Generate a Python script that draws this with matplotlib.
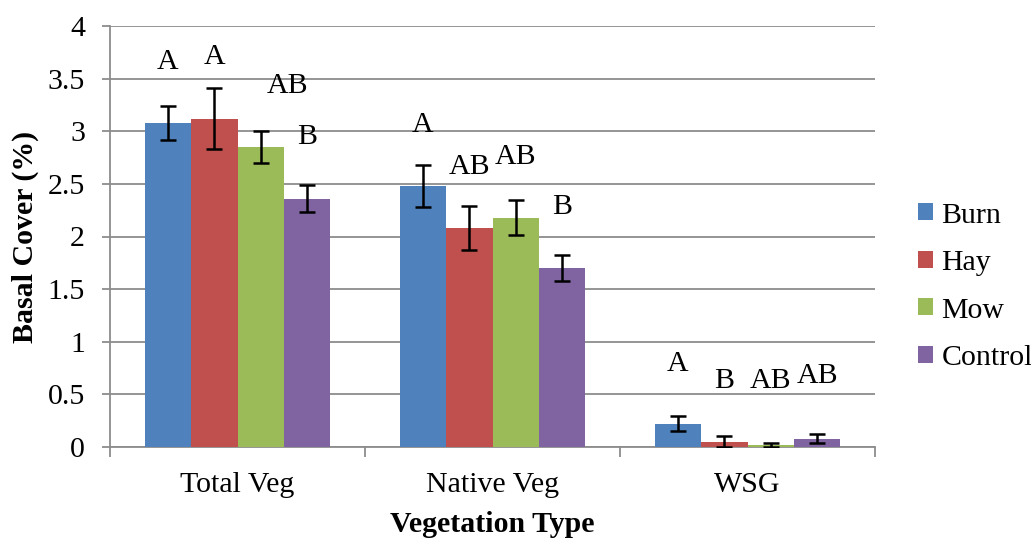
import matplotlib
matplotlib.use("Agg")
import matplotlib.pyplot as plt
import numpy as np

categories = ["Total Veg", "Native Veg", "WSG"]
series = ["Burn", "Hay", "Mow", "Control"]
burn = [3.08, 2.48, 0.22]
hay = [3.12, 2.08, 0.05]
mow = [2.85, 2.18, 0.02]
control = [2.36, 1.70, 0.08]
burn_err = [0.16, 0.20, 0.07]
hay_err = [0.29, 0.21, 0.05]
mow_err = [0.15, 0.17, 0.02]
control_err = [0.13, 0.12, 0.04]
burn_letters = ["A", "A", "A"]
hay_letters = ["A", "AB", "B"]
mow_letters = ["AB", "AB", "AB"]
control_letters = ["B", "B", "AB"]
# heights (in y units) at which the significance letters sit
burn_letter_y = [3.66, 3.06, 0.79]
hay_letter_y = [3.71, 2.66, 0.63]
mow_letter_y = [3.43, 2.76, 0.63]
control_letter_y = [2.95, 2.28, 0.67]

values = [burn, hay, mow, control]
errors = [burn_err, hay_err, mow_err, control_err]
letters = [burn_letters, hay_letters, mow_letters, control_letters]
letter_y = [burn_letter_y, hay_letter_y, mow_letter_y, control_letter_y]
colors = ["#4F81BD", "#C0504D", "#9BBB59", "#8064A2"]

plt.rcParams['font.family'] = ['Liberation Serif', 'DejaVu Serif']
FS = 21.5

fig = plt.figure(figsize=(10.31, 5.38), dpi=100)
ax = fig.add_axes([110/1031, 1-447/538, 765/1031, 421/538])

x = np.arange(len(categories))
w = 1/5.5
grid_c = "#8C8C8C"
for i, (vals, errs, c, name) in enumerate(zip(values, errors, colors, series)):
    pos = x + (i - 1.5) * w
    ax.bar(pos, vals, width=w, color=c, label=name, zorder=3, linewidth=0)
    ax.errorbar(pos, vals, yerr=errs, fmt="none", ecolor="black", elinewidth=1.8,
                capsize=6, capthick=1.8, zorder=4)
    for j in range(len(categories)):
        dx = 0.0
        if j == 0 and i == 2:
            dx = 0.105
        ax.text(pos[j] + dx, letter_y[i][j], letters[i][j], ha="center", va="center",
                fontsize=FS, zorder=5)

ax.set_xlim(-0.5, 2.5)
ax.set_ylim(0, 4)
ax.set_yticks(np.arange(0, 4.01, 0.5))
ax.set_yticklabels(["0", "0.5", "1", "1.5", "2", "2.5", "3", "3.5", "4"], fontsize=FS)
ax.yaxis.grid(True, color=grid_c, linewidth=1.3, zorder=0)
ax.set_axisbelow(True)

ax.set_xticks([-0.5, 0.5, 1.5, 2.5])
ax.set_xticklabels([])
ax.set_xticks(x, minor=True)
ax.set_xticklabels(categories, minor=True, fontsize=FS)
ax.tick_params(axis="x", which="major", length=7, width=1.3, color=grid_c, direction="out")
ax.tick_params(axis="x", which="minor", length=0, pad=18)
ax.tick_params(axis="y", length=6, width=1.3, color=grid_c, direction="out", pad=12)

for s in ["top", "right"]:
    ax.spines[s].set_visible(False)
for s in ["left", "bottom"]:
    ax.spines[s].set_color(grid_c)
    ax.spines[s].set_linewidth(1.3)

ax.set_xlabel("Vegetation Type", fontsize=FS, fontweight="bold", labelpad=9)
ax.set_ylabel("Basal Cover (%)", fontsize=FS, fontweight="bold", labelpad=6)

fig.legend(loc="center left", bbox_to_anchor=(0.890, 0.467), frameon=False,
           fontsize=FS, handlelength=0.5, handleheight=0.5, handletextpad=0.3,
           labelspacing=0.72, borderpad=0, borderaxespad=0)

fig.savefig("out.png", dpi=100)
